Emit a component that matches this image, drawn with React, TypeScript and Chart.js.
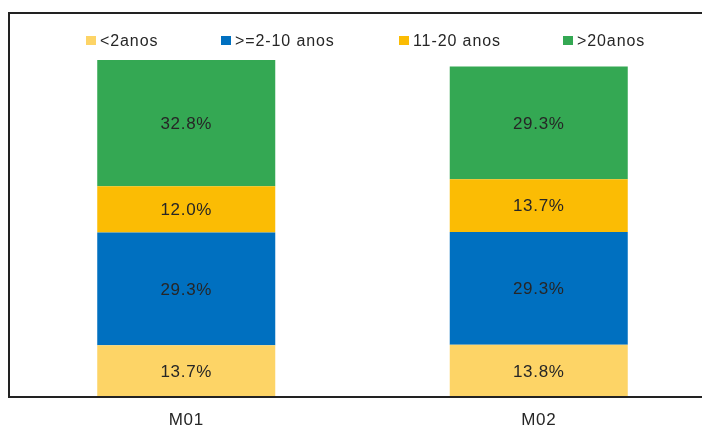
import { useEffect, useRef } from 'react';
import { Chart, registerables } from 'chart.js';

Chart.register(...registerables);

// Age bands of the workforce, per sample
const categories = ['M01', 'M02'];
const seriesNames = ['<2anos', '>=2-10 anos', '11-20 anos', '>20anos'];
const under2 = [13.7, 13.8];
const from2to10 = [29.3, 29.3];
const from11to20 = [12.0, 13.7];
const over20 = [32.8, 29.3];
const seriesColors = ['#FDD466', '#0070C0', '#FBBC04', '#34A853'];
const yMax = 100;

const FONT = '"Liberation Sans", Arial, sans-serif';
const TEXT = '#262626';
// left edge of each legend marker
const legendX = [86, 221, 399, 563];

const framePlugin = {
  id: 'frame',
  beforeDraw(chart: any) {
    chart.ctx.letterSpacing = '0.7px';
  },
  afterDatasetsDraw(chart: any) {
    const ctx = chart.ctx;
    ctx.save();
    // value labels centred in each segment
    ctx.font = `17px ${FONT}`;
    ctx.letterSpacing = '0.7px';
    ctx.fillStyle = TEXT;
    ctx.textAlign = 'center';
    ctx.textBaseline = 'middle';
    chart.data.datasets.forEach((ds: any, di: number) => {
      const meta = chart.getDatasetMeta(di);
      meta.data.forEach((bar: any, i: number) => {
        const v = ds.data[i] as number;
        const cy = (bar.y + bar.base) / 2 + 1;
        ctx.fillText(v.toFixed(1) + '%', bar.x, cy);
      });
    });

    // outer frame
    ctx.letterSpacing = '0px';
    ctx.strokeStyle = '#222222';
    ctx.lineWidth = 2;
    ctx.beginPath();
    ctx.moveTo(740, 13);
    ctx.lineTo(9, 13);
    ctx.lineTo(9, 397);
    ctx.lineTo(740, 397);
    ctx.stroke();

    // legend
    ctx.font = `16px ${FONT}`;
    ctx.letterSpacing = '0.9px';
    ctx.textAlign = 'left';
    ctx.textBaseline = 'alphabetic';
    chart.data.datasets.forEach((ds: any, di: number) => {
      const x = legendX[di];
      ctx.fillStyle = ds.backgroundColor;
      ctx.fillRect(x, 36, 10, 9);
      ctx.fillStyle = TEXT;
      ctx.fillText(ds.label, x + 14, 46);
    });
    ctx.restore();
  },
};

export default function App() {
  const canvasRef = useRef<HTMLCanvasElement | null>(null);

  useEffect(() => {
    if (!canvasRef.current) return;
    const values = [under2, from2to10, from11to20, over20];
    const chart = new Chart(canvasRef.current, {
      type: 'bar',
      data: {
        labels: categories,
        datasets: seriesNames.map((name, i) => ({
          label: name,
          data: values[i],
          backgroundColor: seriesColors[i],
          borderWidth: 0,
          barPercentage: 1,
          categoryPercentage: 0.505,
        })),
      },
      options: {
        responsive: false,
        animation: false,
        devicePixelRatio: 1,
        layout: { padding: { left: 10, right: 1, top: 13, bottom: -15 } },
        plugins: {
          legend: { display: false },
          tooltip: { enabled: false },
        },
        scales: {
          x: {
            stacked: true,
            grid: { display: false, drawTicks: false },
            border: { display: false },
            ticks: {
              color: TEXT,
              padding: 14,
              font: { family: FONT, size: 17, lineHeight: 1 },
            },
          },
          y: {
            stacked: true,
            display: false,
            min: 0,
            max: yMax,
          },
        },
      },
      plugins: [framePlugin],
    });
    return () => chart.destroy();
  }, []);

  return (
    <div
      style={{
        position: 'absolute',
        left: 0,
        top: 0,
        width: 702,
        height: 428,
        overflow: 'hidden',
        background: '#ffffff',
      }}
    >
      <canvas ref={canvasRef} width={716} height={428} style={{ display: 'block' }} />
    </div>
  );
}
